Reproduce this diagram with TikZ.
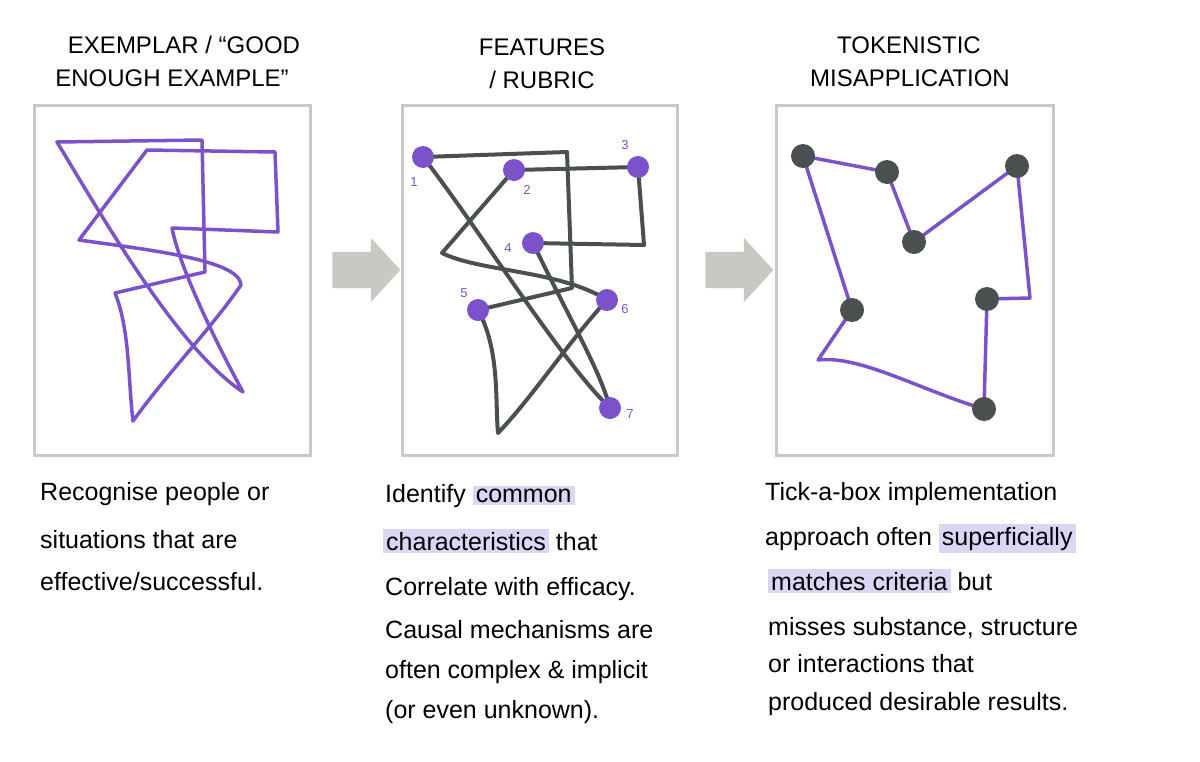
\documentclass[tikz,border=0pt]{standalone}
\usepackage{fontspec}
\setmainfont{Liberation Sans}
\usetikzlibrary{shapes.arrows,backgrounds}
\definecolor{pur}{HTML}{7B52CC}
\definecolor{dk}{HTML}{4A4F4F}
\definecolor{fr}{HTML}{C9C8C3}
\definecolor{hl}{HTML}{DCD6F5}
\newcommand\hlw[1]{{\setlength{\fboxsep}{3pt}\colorbox{hl}{#1}}}
\begin{document}
\begin{tikzpicture}[x=1pt,y=-1pt,
  frame/.style={draw=fr,line width=3pt},
  pline/.style={draw=pur,line width=3.5pt,line join=round,line cap=round},
  dline/.style={draw=dk,line width=4pt,line join=round,line cap=round},
  pdot/.style={circle,fill=pur,inner sep=0pt,minimum size=22pt},
  ddot/.style={circle,fill=dk,inner sep=0pt,minimum size=24pt},
  num/.style={text=pur,font=\fontsize{13}{15}\selectfont},
  ttl/.style={font=\fontsize{24}{28}\selectfont,anchor=center},
  body/.style={font=\fontsize{25}{30}\selectfont,anchor=base west,inner sep=0pt},
  blk/.style={single arrow,fill=fr,minimum height=68pt,single arrow head extend=14pt,single arrow tip angle=95,inner sep=18pt,draw=none}]
\useasboundingbox (0,0) rectangle (1200,761);
% titles
\node[ttl] (t1a) at (184,45) {EXEMPLAR / “GOOD};
\node[ttl] (t1b) at (172,78) {ENOUGH EXAMPLE”};
\node[ttl] (t2a) at (542,47) {FEATURES};
\node[ttl] (t2b) at (542,80) {/ RUBRIC};
\node[ttl] (t3a) at (909,45) {TOKENISTIC};
\node[ttl] (t3b) at (910,78) {MISAPPLICATION};
% frames
\draw[frame] (34,105) rectangle (310,455);
\draw[frame] (402,105) rectangle (677,455);
\draw[frame] (776,105) rectangle (1053,455);
% arrows
\node[blk] (a1) at (358,270) {};
\node[blk] (a2) at (731,270) {};
% panel 1
\draw[pline] (57,142) -- (202,140) -- (205,272) -- (115,293) .. controls (130,330) and (128,380) .. (133,421)
  .. controls (170,370) and (210,330) .. (241,285) .. controls (240,260) and (150,250) .. (79,240)
  -- (147,150) -- (275,152) -- (278,232) -- (172,228) .. controls (180,270) and (220,350) .. (243,392)
  .. controls (180,350) and (110,230) .. (57,142) -- cycle;
% panel 2
\node[pdot] (n1) at (423,157) {};
\node[pdot] (n2) at (514,170) {};
\node[pdot] (n3) at (638,167) {};
\node[pdot] (n4) at (533,243) {};
\node[pdot] (n5) at (478,310) {};
\node[pdot] (n6) at (607,300) {};
\node[pdot] (n7) at (610,408) {};
\node[num] (l1) at (414,182) {1};
\node[num] (l2) at (527,190) {2};
\node[num] (l3) at (625,145) {3};
\node[num] (l4) at (508,248) {4};
\node[num] (l5) at (464,293) {5};
\node[num] (l6) at (625,309) {6};
\node[num] (l7) at (630,414) {7};
\begin{scope}[on background layer]
\draw[dline] (n1.center) -- (567,152) -- (572,288) -- (n5.center);
\draw[dline] (n2.center) -- (n3.center);
\draw[dline] (n3.center) -- (644,245) -- (n4.center);
\draw[dline] (n2.center) -- (442,253) .. controls (480,272) and (560,270) .. (n6.center);
\draw[dline] (n1.center) .. controls (480,230) and (560,360) .. (n7.center);
\draw[dline] (n4.center) .. controls (570,320) and (600,370) .. (n7.center);
\draw[dline] (n5.center) .. controls (500,350) and (495,400) .. (498,433) .. controls (530,400) and (570,340) .. (n6.center);
\end{scope}
% panel 3
\node[ddot] (d1) at (803,156) {};
\node[ddot] (d2) at (887,172) {};
\node[ddot] (d3) at (914,242) {};
\node[ddot] (d4) at (1017,166) {};
\node[ddot] (d5) at (987,299) {};
\node[ddot] (d6) at (984,409) {};
\node[ddot] (d7) at (852,310) {};
\coordinate (c1) at (1030,298);
\coordinate (c2) at (818,360);
\begin{scope}[on background layer]
\draw[pline] (d1.center) -- (d2.center) -- (d3.center) -- (d4.center) -- (c1) -- (d5.center) -- (d6.center)
  .. controls (920,390) and (860,355) .. (c2) -- (d7.center) -- (d1.center);
\end{scope}
% texts
\node[body] (b11) at (40,500) {Recognise people or};
\node[body] (b12) at (40,548) {situations that are};
\node[body] (b13) at (40,590) {effective/successful.};
\node[body] (b21) at (385,502) {Identify \hlw{common}};
\node[body] (b22) at (383,550) {\hlw{characteristics} that};
\node[body] (b23) at (385,595) {Correlate with efficacy.};
\node[body] (b24) at (385,638) {Causal mechanisms are};
\node[body] (b25) at (385,678) {often complex \& implicit};
\node[body] (b26) at (385,718) {(or even unknown).};
\node[body] (b31) at (765,500) {Tick-a-box implementation};
\node[body] (b32) at (765,545) {approach often \hlw{superficially}};
\node[body] (b33) at (768,590) {\hlw{matches criteria} but};
\node[body] (b34) at (768,635) {misses substance, structure};
\node[body] (b35) at (768,672) {or interactions that};
\node[body] (b36) at (768,710) {produced desirable results.};
\end{tikzpicture}
\end{document}
